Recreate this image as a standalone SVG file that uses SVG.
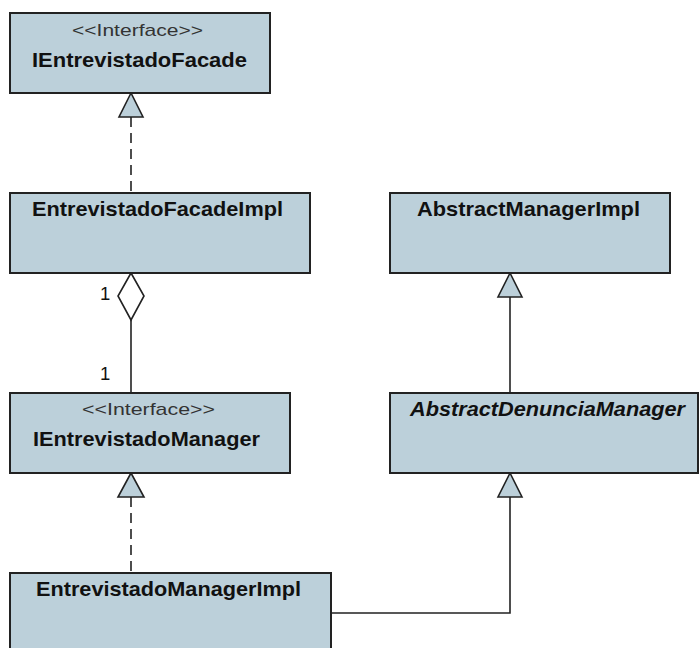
<svg xmlns="http://www.w3.org/2000/svg" width="699" height="648" viewBox="0 0 699 648">
  <style>
    .box { fill: #BCD0DA; stroke: #222; stroke-width: 2; }
    .stereo { font-family: "Liberation Sans", Arial, sans-serif; font-size: 17px; fill: #333; text-anchor: middle; }
    .name { font-family: "Liberation Sans", Arial, sans-serif; font-size: 20.5px; font-weight: bold; fill: #111; text-anchor: middle; }
    .abstract { font-style: italic; }
    .line { fill: none; stroke: #222; stroke-width: 1.6; }
    .dash { stroke-dasharray: 10 6; }
    .tri { fill: #BCD0DA; stroke: #222; stroke-width: 1.6; }
    .dia { fill: #fff; stroke: #222; stroke-width: 1.6; }
    .mult { font-family: "Liberation Sans", Arial, sans-serif; font-size: 18.5px; fill: #111; }
  </style>
  <rect width="699" height="648" fill="#fff"/>

  <g id="connectors">
    <!-- EntrevistadoFacadeImpl realizes IEntrevistadoFacade -->
    <line class="line dash" x1="131" y1="117" x2="131" y2="193"/>
    <polygon class="tri" points="131,93 119,117 143,117"/>
    <!-- aggregation EntrevistadoFacadeImpl -> IEntrevistadoManager -->
    <line class="line" x1="131" y1="320" x2="131" y2="393"/>
    <polygon class="dia" points="131,273 118,296 131,320 144,296"/>
    <text class="mult" x="100" y="300">1</text>
    <text class="mult" x="100" y="380">1</text>
    <!-- AbstractDenunciaManager extends AbstractManagerImpl -->
    <line class="line" x1="510" y1="297" x2="510" y2="393"/>
    <polygon class="tri" points="510,273 498,297 522,297"/>
    <!-- EntrevistadoManagerImpl realizes IEntrevistadoManager -->
    <line class="line dash" x1="131" y1="497" x2="131" y2="573"/>
    <polygon class="tri" points="131,473 118,497 144,497"/>
    <!-- EntrevistadoManagerImpl extends AbstractDenunciaManager -->
    <polyline class="line" points="331,613 510,613 510,497"/>
    <polygon class="tri" points="510,473 498,497 522,497"/>
  </g>

  <g id="IEntrevistadoFacade">
    <rect class="box" x="10" y="13" width="260" height="80"/>
    <text class="stereo" x="137.5" y="36" textLength="131" lengthAdjust="spacingAndGlyphs">&lt;&lt;Interface&gt;&gt;</text>
    <text class="name" x="139.5" y="66.5" textLength="215" lengthAdjust="spacingAndGlyphs">IEntrevistadoFacade</text>
  </g>

  <g id="EntrevistadoFacadeImpl">
    <rect class="box" x="10" y="193" width="300" height="80"/>
    <text class="name" x="157.5" y="215.5" textLength="251" lengthAdjust="spacingAndGlyphs">EntrevistadoFacadeImpl</text>
  </g>

  <g id="AbstractManagerImpl">
    <rect class="box" x="390" y="193" width="280" height="80"/>
    <text class="name" x="528.5" y="215.5" textLength="223" lengthAdjust="spacingAndGlyphs">AbstractManagerImpl</text>
  </g>

  <g id="IEntrevistadoManager">
    <rect class="box" x="10" y="393" width="280" height="80"/>
    <text class="stereo" x="148.5" y="415" textLength="133" lengthAdjust="spacingAndGlyphs">&lt;&lt;Interface&gt;&gt;</text>
    <text class="name" x="146.5" y="445.5" textLength="227" lengthAdjust="spacingAndGlyphs">IEntrevistadoManager</text>
  </g>

  <g id="AbstractDenunciaManager">
    <rect class="box" x="390" y="393" width="308" height="80"/>
    <text class="name abstract" x="547.5" y="415.5" textLength="275" lengthAdjust="spacingAndGlyphs">AbstractDenunciaManager</text>
  </g>

  <g id="EntrevistadoManagerImpl">
    <rect class="box" x="10" y="573" width="321" height="90"/>
    <text class="name" x="168.5" y="595.5" textLength="265" lengthAdjust="spacingAndGlyphs">EntrevistadoManagerImpl</text>
  </g>
</svg>
